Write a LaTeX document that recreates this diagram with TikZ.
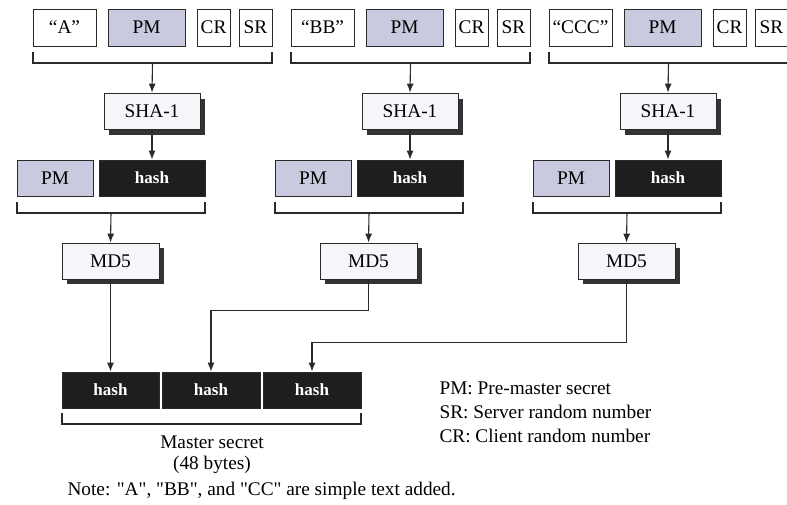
\documentclass[tikz,border=0pt]{standalone}
\usepackage{fontspec}
\setmainfont{Liberation Serif}[Ligatures=TeXOff]
\usetikzlibrary{arrows.meta}
\definecolor{pmblue}{HTML}{C9C9DF}
\definecolor{algwhite}{HTML}{F5F5FA}
\definecolor{hashgray}{HTML}{1E1E1E}
\definecolor{inkgray}{HTML}{2A2A2A}
\definecolor{shadowgray}{HTML}{333333}
\tikzset{
  box/.style={draw=inkgray, line width=0.8pt, inner sep=0pt, minimum height=37pt},
  litbox/.style={box, fill=white},
  pmbox/.style={box, fill=pmblue},
  hashbox/.style={box, fill=hashgray, text=white, minimum height=36pt,
    font=\bfseries\fontsize{17}{20}\selectfont},
  algbox/.style={box, fill=algwhite, minimum width=96pt, minimum height=36pt},
  brace/.style={draw=inkgray, line width=1.1pt},
  link/.style={->, inkgray, line width=1.1pt},
}
\begin{document}
\begin{tikzpicture}[x=1pt, y=-1pt, font=\fontsize{19.3}{24}\selectfont]
    \tikzset{>={Latex[length=9pt,width=7pt]}}
    \useasboundingbox (0,0) rectangle (787,504);
    % three SHA-1 / MD5 rounds
    \foreach \t [count=\i] in {“A”, “BB”, “CCC”} {
      \pgfmathsetmacro{\x}{258*(\i-1)}
      \node[litbox, minimum width=63pt] (lit\i) at (\x+64.5,27.5) {\t};
      \node[pmbox, minimum width=77pt] (pm\i) at (\x+146.5,27.5) {PM};
      \node[litbox, minimum width=33pt] (cr\i) at (\x+213.5,27.5) {CR};
      \node[litbox, minimum width=33pt] (sr\i) at (\x+255.5,27.5) {SR};
      \draw[brace] (\x+33,52) -- (\x+33,63) -- (\x+272,63) -- (\x+272,52);
      \coordinate (b\i) at (\x+152.5,63);
      \fill[shadowgray] (\x+109,99) rectangle (\x+205,135);
      \node[algbox] (sha\i) at (\x+152,111) {SHA-1};
      \node[pmbox, minimum width=76pt, minimum height=36pt] (pmb\i) at (\x+55,178) {PM};
      \node[hashbox, minimum width=106pt] (hash\i) at (\x+152,178) {hash};
      \draw[brace] (\x+17,202) -- (\x+17,213) -- (\x+205,213) -- (\x+205,202);
      \coordinate (c\i) at (\x+111,213);
      \fill[shadowgray] (\x+67,248) rectangle (\x+164,284);
      \node[algbox, minimum width=97pt] (md\i) at (\x+110.5,261) {MD5};
      \draw[link] (b\i) -- (sha\i.north);
      \draw[link] (sha\i.south) -- (hash\i.north);
      \draw[link] (c\i) -- (md\i.north);
    }
    % master secret
    \node[hashbox, minimum width=97pt] (h1) at (110.5,390) {hash};
    \node[hashbox, minimum width=98pt] (h2) at (211,390) {hash};
    \node[hashbox, minimum width=98pt] (h3) at (312,390) {hash};
    \draw[brace] (62,413) -- (62,424) -- (361,424) -- (361,413);
    \node[align=center, font=\fontsize{19.3}{21}\selectfont] (ms) at (212,455)
      {Master secret\\(48 bytes)};
    \draw[link] (md1.south) -- (h1.north);
    \draw[link] (md2.south) -- ++(0,31) -| (h2.north);
    \draw[link] (md3.south) -- ++(0,63) -| (h3.north);
    % legend and note
    \node[anchor=north west, align=left] (legend) at (436,378)
      {PM: Pre-master secret\\SR: Server random number\\CR: Client random number};
    \node[anchor=west] (note) at (64,491) {Note: "A", "BB", and "CC" are simple text added.};
\end{tikzpicture}
\end{document}
